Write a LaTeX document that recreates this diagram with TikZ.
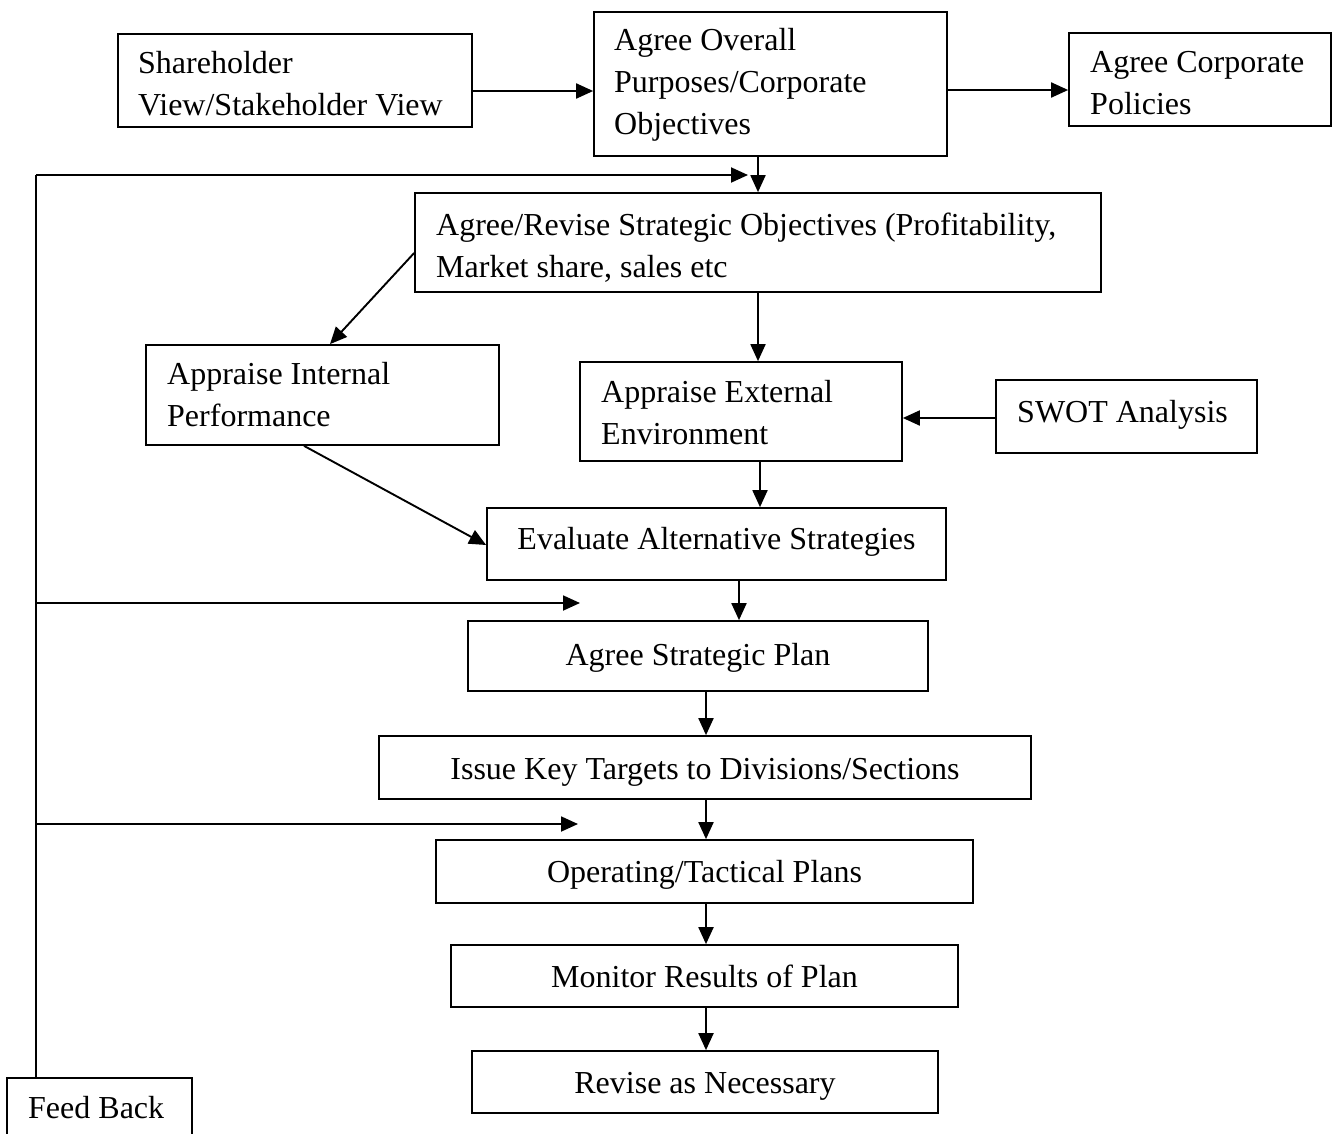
\documentclass[tikz,border=0pt]{standalone}
\usepackage{fontspec}
\setmainfont{Liberation Serif}
\usetikzlibrary{arrows.meta}

\tikzset{
  frame/.style={draw, line width=1.7pt, fill=white, inner sep=0pt},
  lbl/.style={inner sep=0pt, font=\fontsize{32}{42}\selectfont},
  lbll/.style={lbl, anchor=base west, align=flush left, text width=#1},
  lblc/.style={lbl, anchor=base},
  arr/.style={line width=1.9pt, -{Triangle[length=17pt,width=15pt]}},
  plain/.style={line width=1.9pt}
}

\begin{document}
\begin{tikzpicture}[x=1pt,y=-1pt]
\useasboundingbox (0,0) rectangle (1333,1133);
\clip (0,0) rectangle (1333,1133);

% boxes
\node[frame, minimum width=354, minimum height=93]  (sh) at (295,80.5)   {};
\node[frame, minimum width=353, minimum height=144] (ao) at (770.5,84)   {};
\node[frame, minimum width=262, minimum height=93]  (cp) at (1200,79.5)  {};
\node[frame, minimum width=686, minimum height=99]  (so) at (758,242.5)  {};
\node[frame, minimum width=353, minimum height=100] (ai) at (322.5,395)  {};
\node[frame, minimum width=322, minimum height=99]  (ae) at (741,411.5)  {};
\node[frame, minimum width=261, minimum height=73]  (sw) at (1126.5,416.5) {};
\node[frame, minimum width=459, minimum height=72]  (ev) at (716.5,544)  {};
\node[frame, minimum width=460, minimum height=70]  (sp) at (698,656)    {};
\node[frame, minimum width=652, minimum height=63]  (ik) at (705,767.5)  {};
\node[frame, minimum width=537, minimum height=63]  (ot) at (704.5,871.5) {};
\node[frame, minimum width=507, minimum height=62]  (mr) at (704.5,976)  {};
\node[frame, minimum width=466, minimum height=62]  (rn) at (705,1082)   {};
\node[frame, minimum width=185, minimum height=80]  (fb) at (99.5,1118)  {};

% box texts
\node[lbll=330] (shT) at (138,73)   {Shareholder\\View/Stakeholder View};
\node[lbll=320] (aoT) at (614,50)   {Agree Overall\\Purposes/Corporate\\Objectives};
\node[lbll=240] (cpT) at (1090,72.5) {Agree Corporate\\Policies};
\node[lbll=660] (soT) at (436,235.5) {Agree/Revise Strategic Objectives (Profitability,\\Market share, sales etc};
\node[lbll=320] (aiT) at (167,384.5) {Appraise Internal\\Performance};
\node[lbll=300] (aeT) at (601,402.5) {Appraise External\\Environment};
\node[lbll=240] (swT) at (1017,422.5) {SWOT Analysis};
\node[lblc] (evT) at (716.5,549)  {Evaluate Alternative Strategies};
\node[lblc] (spT) at (698,665.5)  {Agree Strategic Plan};
\node[lblc] (ikT) at (705,779.5)  {Issue Key Targets to Divisions/Sections};
\node[lblc] (otT) at (704.5,882.5) {Operating/Tactical Plans};
\node[lblc] (mrT) at (704.5,987.5) {Monitor Results of Plan};
\node[lblc] (rnT) at (705,1093.5) {Revise as Necessary};
\node[lbll=170] (fbT) at (28,1118) {Feed Back};

% main flow
\draw[arr] (sh.east |- 0,91)  -- (ao.west |- 0,91);
\draw[arr] (ao.east |- 0,90)  -- (cp.west |- 0,90);
\draw[arr] (ao.south -| 758,0) -- (so.north -| 758,0);
\draw[arr] (so.west |- 0,253) -- (ai.north -| 330,0);
\draw[arr] (so.south -| 758,0) -- (ae.north -| 758,0);
\draw[arr] (sw.west |- 0,418) -- (ae.east |- 0,418);
\draw[arr] (ae.south -| 760,0) -- (ev.north -| 760,0);
\draw[arr] (ai.south -| 304,0) -- (ev.west |- 0,545);
\draw[arr] (ev.south -| 739,0) -- (sp.north -| 739,0);
\draw[arr] (sp.south -| 706,0) -- (ik.north -| 706,0);
\draw[arr] (ik.south -| 706,0) -- (ot.north -| 706,0);
\draw[arr] (ot.south -| 706,0) -- (mr.north -| 706,0);
\draw[arr] (mr.south -| 706,0) -- (rn.north -| 706,0);

% feedback loop
\coordinate (fbTop) at (36,175);
\coordinate (fbMid) at (36,603);
\coordinate (fbLow) at (36,824);
\coordinate (endTop) at (748,175);
\coordinate (endMid) at (580,603);
\coordinate (endLow) at (578,824);
\draw[plain] (fb.north -| fbTop) -- (fbTop);
\draw[arr] (fbTop) -- (endTop);
\draw[arr] (fbMid) -- (endMid);
\draw[arr] (fbLow) -- (endLow);
\end{tikzpicture}
\end{document}
